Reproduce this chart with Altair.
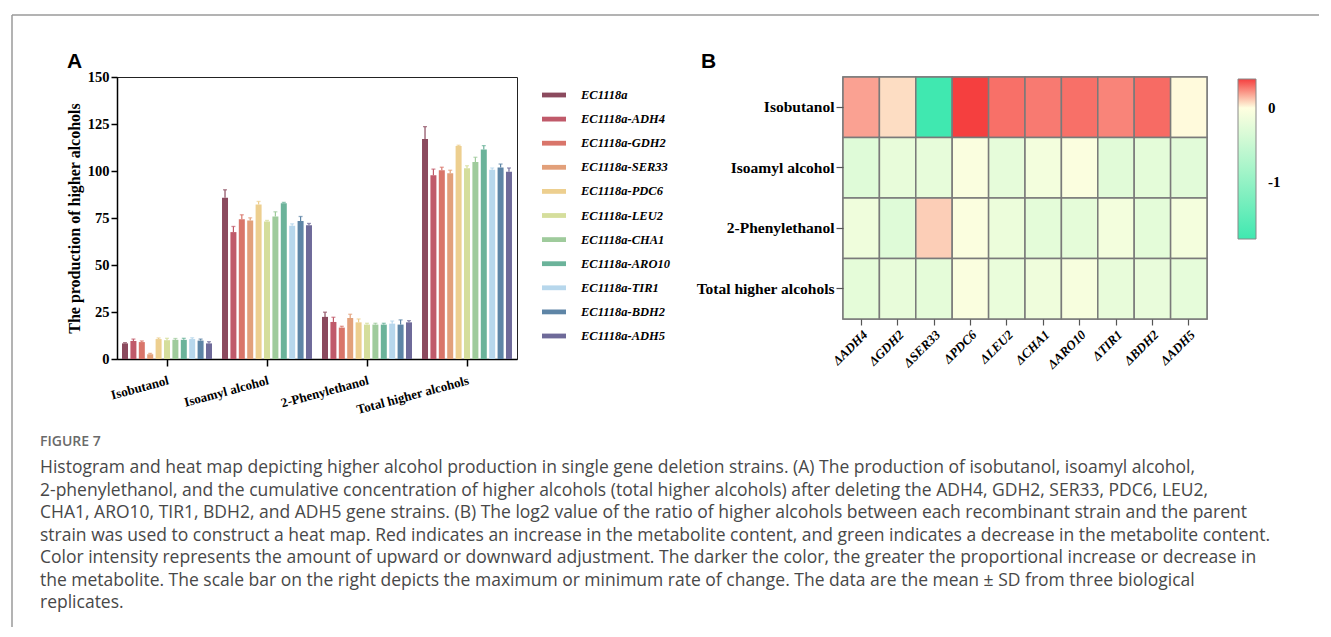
import altair as alt
import pandas as pd

# ---------------- data ----------------
groups = ["Isobutanol", "Isoamyl alcohol", "2-Phenylethanol", "Total higher alcohols"]
strains = ["EC1118a", "EC1118a-ADH4", "EC1118a-GDH2", "EC1118a-SER33", "EC1118a-PDC6",
           "EC1118a-LEU2", "EC1118a-CHA1", "EC1118a-ARO10", "EC1118a-TIR1",
           "EC1118a-BDH2", "EC1118a-ADH5"]
strain_colors = ["#8B4A5E", "#C05A6A", "#D9756A", "#E2A07A", "#EDCF8F", "#D5DE9C",
                 "#9FCB9C", "#6BB39A", "#B7D7EC", "#5E85A6", "#6E6A99"]

isobutanol = [8.3, 9.6, 9.0, 2.5, 10.6, 10.0, 10.2, 10.2, 10.6, 9.8, 8.3]
isobutanol_sd = [0.4, 1.0, 0.6, 0.5, 0.6, 1.0, 0.7, 0.8, 0.7, 0.8, 0.9]
isoamyl = [85.8, 67.5, 74.4, 73.7, 82.2, 73.2, 75.8, 82.8, 70.9, 73.4, 71.2]
isoamyl_sd = [4.2, 3.0, 2.3, 1.4, 1.6, 0.5, 2.5, 0.5, 1.0, 2.4, 0.9]
phenyl = [22.4, 19.7, 16.7, 21.8, 19.5, 18.3, 18.3, 18.3, 18.8, 18.3, 19.5]
phenyl_sd = [2.5, 2.5, 0.7, 2.0, 1.8, 0.7, 0.7, 0.7, 1.4, 2.5, 0.9]
total = [117.0, 97.7, 100.4, 98.8, 113.3, 101.4, 104.8, 111.5, 100.7, 101.9, 99.6]
total_sd = [6.6, 3.3, 1.6, 1.6, 0.4, 1.4, 2.5, 2.0, 0.9, 1.8, 2.0]

genes = ["\u0394ADH4", "\u0394GDH2", "\u0394SER33", "\u0394PDC6", "\u0394LEU2",
         "\u0394CHA1", "\u0394ARO10", "\u0394TIR1", "\u0394BDH2", "\u0394ADH5"]
hm_isobutanol = [0.19, 0.07, -1.77, 0.39, 0.29, 0.27, 0.29, 0.25, 0.30, 0.01]
hm_isoamyl = [-0.30, -0.21, -0.22, -0.05, -0.23, -0.11, -0.04, -0.28, -0.25, -0.27]
hm_phenyl = [-0.15, -0.30, 0.10, -0.04, -0.18, -0.25, -0.24, -0.11, -0.25, -0.10]
hm_total = [-0.24, -0.21, -0.24, -0.05, -0.19, -0.15, -0.07, -0.21, -0.20, -0.23]

caption_head = "FIGURE 7"
caption_lines = [
    "Histogram and heat map depicting higher alcohol production in single gene deletion strains. (A) The production of isobutanol, isoamyl alcohol,",
    "2-phenylethanol, and the cumulative concentration of higher alcohols (total higher alcohols) after deleting the ADH4, GDH2, SER33, PDC6, LEU2,",
    "CHA1, ARO10, TIR1, BDH2, and ADH5 gene strains. (B) The log2 value of the ratio of higher alcohols between each recombinant strain and the parent",
    "strain was used to construct a heat map. Red indicates an increase in the metabolite content, and green indicates a decrease in the metabolite content.",
    "Color intensity represents the amount of upward or downward adjustment. The darker the color, the greater the proportional increase or decrease in",
    "the metabolite. The scale bar on the right depicts the maximum or minimum rate of change. The data are the mean \u00b1 SD from three biological",
    "replicates.",
]

# ---------------- tables ----------------
rows = []
for g, vals, sds in zip(groups, [isobutanol, isoamyl, phenyl, total],
                        [isobutanol_sd, isoamyl_sd, phenyl_sd, total_sd]):
    for s, v, e in zip(strains, vals, sds):
        rows.append({"group": g, "strain": s, "value": v, "top": v + e})
bar_df = pd.DataFrame(rows)

hrows = []
for a, vals in zip(groups, [hm_isobutanol, hm_isoamyl, hm_phenyl, hm_total]):
    for gname, v in zip(genes, vals):
        hrows.append({"alcohol": a, "gene": gname, "ratio": v})
hm_df = pd.DataFrame(hrows)

one = pd.DataFrame({"k": [0]})

SERIF = "Liberation Serif"

# ---------------- panel A ----------------
x_enc = alt.X("group:N", sort=groups, scale=alt.Scale(paddingInner=0, paddingOuter=0),
              axis=alt.Axis(title=None, labelAngle=-15, labelAlign="right", labelBaseline="top",
                            labelPadding=8, labelFont=SERIF, labelFontSize=13,
                            labelFontWeight="bold", labelColor="black", tickColor="black",
                            tickSize=7, tickWidth=1.5, domainColor="black", domainWidth=1.5))
xo_enc = alt.XOffset("strain:N", sort=strains,
                     scale=alt.Scale(paddingInner=0.29, paddingOuter=0.6))
col_enc = alt.Color("strain:N", sort=strains,
                    scale=alt.Scale(domain=strains, range=strain_colors),
                    legend=alt.Legend(title=None, orient="none", legendX=425, legendY=6,
                                      symbolType="M-1,-0.2H1V0.2H-1Z", symbolSize=576,
                                      symbolStrokeWidth=0, symbolOpacity=1,
                                      labelFont=SERIF, labelFontSize=12.5,
                                      labelFontWeight="bold", labelFontStyle="italic",
                                      labelColor="black", labelOffset=15, rowPadding=5.1))

bars = alt.Chart(bar_df).mark_bar(width=6, opacity=1).encode(
    x=x_enc, xOffset=xo_enc,
    y=alt.Y("value:Q", scale=alt.Scale(domain=[0, 150], nice=False),
            axis=alt.Axis(values=[0, 25, 50, 75, 100, 125, 150], grid=False,
                          title="The production of  higher alcohols", titleFont=SERIF,
                          titleFontSize=16, titleFontWeight="bold", titleColor="black",
                          titlePadding=5, labelFont=SERIF, labelFontSize=14.5,
                          labelFontWeight="bold", labelColor="black", tickColor="black",
                          tickSize=6, tickWidth=1.5, domainColor="black", domainWidth=1.5,
                          labelPadding=2)),
    color=col_enc,
)
err = alt.Chart(bar_df).mark_rule(strokeWidth=1.2).encode(
    x=x_enc, xOffset=xo_enc, y="value:Q", y2="top:Q", color=col_enc)
caps = alt.Chart(bar_df).mark_tick(thickness=1.3, size=4).encode(
    x=x_enc, xOffset=xo_enc, y="top:Q", color=col_enc)

frame_left = alt.Chart(one).mark_rule(color="#9a9a9a", strokeWidth=1.5).encode(
    x=alt.value(-105), y=alt.value(-62), y2=alt.value(550))
frame_top = alt.Chart(one).mark_rule(color="#9a9a9a", strokeWidth=1.5).encode(
    x=alt.value(-105), x2=alt.value(1202), y=alt.value(-62))
letter_a = alt.Chart(one).mark_text(align="left", baseline="alphabetic", font="Liberation Sans",
                                     fontSize=21, fontWeight="bold", color="black").encode(
    x=alt.value(-50), y=alt.value(-9), text=alt.value("A"))
cap_head = alt.Chart(one).mark_text(align="left", baseline="alphabetic", font="Open Sans",
                                     fontSize=14, fontWeight=600, color="#6a6a6a").encode(
    x=alt.value(-77), y=alt.value(369), text=alt.value(caption_head))
cap_body = alt.Chart(one).mark_text(align="left", baseline="alphabetic", font="Open Sans",
                                     fontSize=17.5, color="#484848", lineHeight=22.5).encode(
    x=alt.value(-77), y=alt.value(396), text=alt.value(caption_lines))

panel_a = alt.layer(bars, err, caps, frame_left, frame_top, letter_a,
                    cap_head, cap_body).properties(
    width=400, height=282,
    view=alt.ViewBackground(stroke="#222222", strokeWidth=1),
)

# ---------------- panel B ----------------
heat = alt.Chart(hm_df).mark_rect(stroke="#7a7a7a", strokeWidth=1.5).encode(
    x=alt.X("gene:N", sort=genes, scale=alt.Scale(paddingInner=0, paddingOuter=0),
            axis=alt.Axis(title=None, labelAngle=-45, labelAlign="right", labelBaseline="top",
                          labelPadding=3, labelFont=SERIF, labelFontSize=13,
                          labelFontWeight="bold", labelFontStyle="italic", labelColor="black",
                          tickColor="#555555", tickSize=6, tickWidth=1.2, domain=False)),
    y=alt.Y("alcohol:N", sort=groups, scale=alt.Scale(paddingInner=0, paddingOuter=0),
            axis=alt.Axis(title=None, labelFont=SERIF, labelFontSize=15.5,
                          labelFontWeight="bold", labelColor="black", tickColor="#555555",
                          tickSize=7, tickWidth=1.2, labelPadding=2, domain=False)),
    color=alt.Color("ratio:Q",
                    scale=alt.Scale(domain=[-1.77, 0, 0.39],
                                    range=["#40E8B0", "#FFFFE0", "#F53F3F"],
                                    interpolate="rgb"),
                    legend=alt.Legend(title=None, orient="none", legendX=395, legendY=2,
                                      direction="vertical", gradientLength=160,
                                      gradientThickness=18, gradientStrokeColor="#888888",
                                      gradientStrokeWidth=1, values=[0, -1],
                                      labelExpr="datum.value == 0 ? '0' : '-1'",
                                      labelFont=SERIF, labelFontSize=15, labelFontWeight="bold",
                                      labelColor="black", labelOffset=12)),
)
letter_b = alt.Chart(one).mark_text(align="left", baseline="alphabetic", font="Liberation Sans",
                                     fontSize=21, fontWeight="bold", color="black").encode(
    x=alt.value(-142), y=alt.value(-9), text=alt.value("B"))

panel_b = alt.layer(heat, letter_b).properties(
    width=364, height=242,
    view=alt.ViewBackground(stroke="#7a7a7a", strokeWidth=1.5),
)

chart = alt.hconcat(panel_a, panel_b, spacing=326, bounds="flush").properties(
    padding={"left": 2, "top": 5, "right": 0, "bottom": 0}
).configure(background="white")

chart.save("out.html", embed_options={"renderer": "svg", "actions": False})
